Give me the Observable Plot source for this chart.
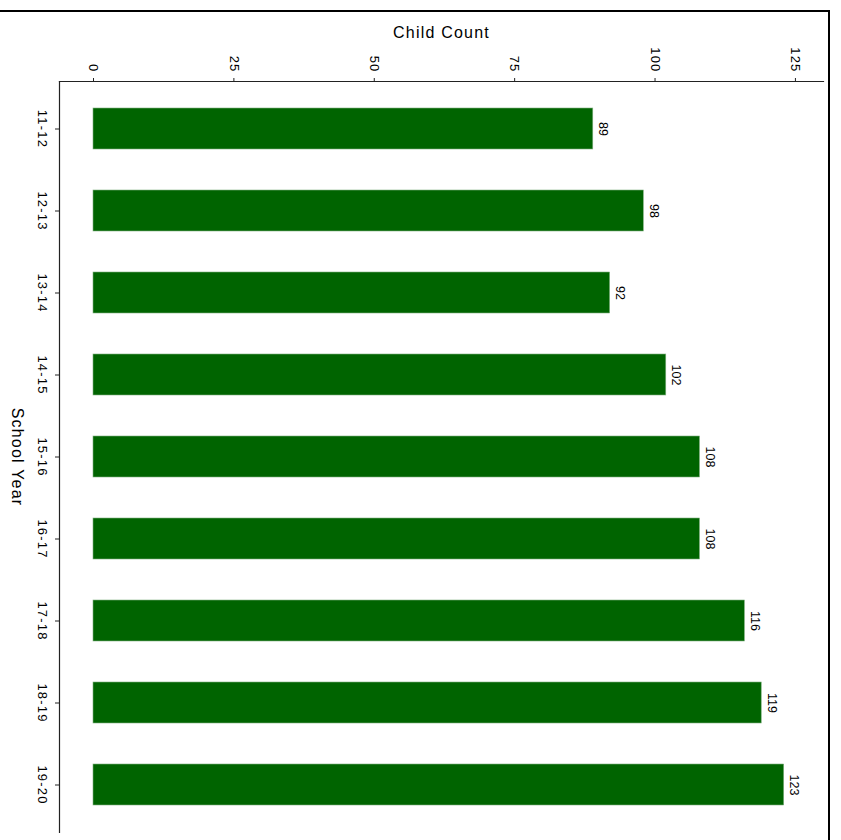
<!DOCTYPE html>
<html>
<head>
<meta charset="utf-8">
<script src="https://cdn.jsdelivr.net/npm/d3@7"></script>
<script src="https://cdn.jsdelivr.net/npm/@observablehq/plot@0.6"></script>
<style>
  html, body { margin: 0; padding: 0; background: #fff; }
  #wrap { position: relative; width: 841px; height: 840px; overflow: hidden; }
  #wrap svg { position: absolute; left: 0; top: 0; }
  #border { position: absolute; left: -5px; top: 10px; width: 835px; height: 840px;
            border-top: 2px solid #000; border-right: 2.5px solid #000; box-sizing: border-box; pointer-events: none; }
  g[aria-label$="tick label"] text { letter-spacing: 1.2px; }
  .ttl text { letter-spacing: 1.2px; }
</style>
</head>
<body>
<div id="wrap"><div id="border"></div></div>
<script>
const years = ["11-12","12-13","13-14","14-15","15-16","16-17","17-18","18-19","19-20"];
const counts = [89, 98, 92, 102, 108, 108, 116, 119, 123];
const xTicks = [0, 25, 50, 75, 100, 125];
const xTitle = "Child Count";
const yTitle = "School Year";

const data = years.map((y, i) => ({year: y, count: counts[i]}));

const chart = Plot.plot({
  width: 841,
  height: 840,
  marginLeft: 59,
  marginTop: 81,
  marginRight: 18,
  marginBottom: 8,
  style: {fontFamily: "'Liberation Sans', Arial, sans-serif", fontSize: "13px", color: "#000", background: "transparent"},
  x: {domain: [0, 130], insetLeft: 34, ticks: xTicks},
  y: {domain: years, insetTop: 27, insetBottom: 27, paddingInner: 0.5, paddingOuter: 0},
  marks: [
    Plot.barX(data, {x: "count", y: "year", fill: "#006400", stroke: "#7fb07f", strokeWidth: 0.6}),
    Plot.text(data, {x: "count", y: "year", text: d => String(d.count), rotate: 90, dx: 10, fontSize: 12.5, fill: "#000"}),
    Plot.frame({anchor: "top", stroke: "#222", strokeWidth: 1.2}),
    Plot.frame({anchor: "left", stroke: "#222", strokeWidth: 1.2}),
    Plot.axisX({anchor: "top", ticks: xTicks, tickRotate: 90, tickSize: 4, tickPadding: 5, label: null, fontSize: 13, stroke: "#222"}),
    Plot.axisY({anchor: "left", tickRotate: 90, tickSize: 4, tickPadding: 8, label: null, fontSize: 13, stroke: "#222"}),
    Plot.text([xTitle], {frameAnchor: "top", text: d => d, dy: -49, lineAnchor: "middle", textAnchor: "middle", fontSize: 16, fill: "#000", className: "ttl"}),
    Plot.text([yTitle], {frameAnchor: "left", text: d => d, rotate: 90, dx: -42, lineAnchor: "middle", textAnchor: "middle", fontSize: 16, fill: "#000", className: "ttl"})
  ]
});
document.getElementById("wrap").insertBefore(chart, document.getElementById("border"));
</script>
</body>
</html>
